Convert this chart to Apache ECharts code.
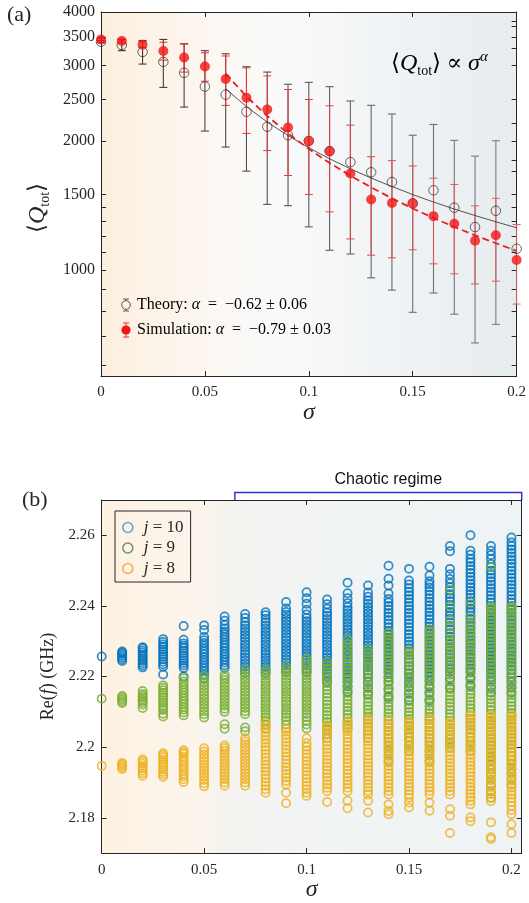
<!DOCTYPE html>
<html>
<head>
<meta charset="utf-8">
<script src="https://cdn.jsdelivr.net/npm/echarts@6/dist/echarts.min.js"></script>
<style>
  html, body { margin: 0; padding: 0; background: #ffffff; }
  #main { width: 529px; height: 903px; }
</style>
</head>
<body>
<div id="main"></div>
<script>
// ---------- Panel (a): mean total quality factor vs. disorder strength ----------
const sigma = [0, 0.01, 0.02, 0.03, 0.04, 0.05, 0.06, 0.07, 0.08, 0.09, 0.10,
               0.11, 0.12, 0.13, 0.14, 0.15, 0.16, 0.17, 0.18, 0.19, 0.20];
// theory: mean and standard deviation
const theoryQ   = [3410, 3350, 3228, 3060, 2886, 2680, 2566, 2341, 2160, 2063, 2001,
                   1895, 1785, 1691, 1605, 1430, 1535, 1398, 1260, 1375, 1121];
const theoryErr = [20, 100, 204, 392, 486, 570, 630, 640, 737, 650, 740,
                   783, 695, 732, 707, 633, 651, 609, 584, 628, null];
// full-wave simulation: mean and standard deviation
const simQ   = [3452, 3423, 3355, 3245, 3132, 2985, 2790, 2524, 2369, 2150, 2000,
                1892, 1680, 1461, 1434, 1432, 1336, 1282, 1170, 1206, 1055];
const simErr = [25, 35, 52, 156, 236, 228, 368, 440, 469, 488, 500,
                525, 498, 378, 366, 317, 302, 302, 242, 264, 222];
// power-law fits over the chaotic range
const fitSigma   = [0.06, 0.07, 0.08, 0.09, 0.10, 0.11, 0.12, 0.13, 0.14, 0.15, 0.16, 0.17, 0.18, 0.19, 0.20];
const theoryFit  = [2648, 2406, 2215, 2059, 1929, 1818, 1723, 1639, 1566, 1500, 1441, 1388, 1340, 1296, 1255];
const simFit     = [2871, 2541, 2287, 2084, 1917, 1778, 1660, 1559, 1470, 1392, 1323, 1261, 1205, 1155, 1109];

const qLabels      = [1000, 1500, 2000, 2500, 3000, 3500, 4000];
const qMinorLeft   = [600, 700, 800, 900, 1100, 1200, 1300, 1400];
const qTicksRight  = [600, 700, 800, 900, 1000, 1100, 1200, 1300, 1400, 1500, 1700, 1800,
                      2000, 2200, 2500, 3000, 3300, 3500, 3700, 3800, 4000];
const sigmaTicks   = [0, 0.05, 0.1, 0.15, 0.2];

// ---------- Panel (b): real part of eigenfrequencies (MHz), one list per sigma ----------
const reJ10 = [
  [2225.7],
  [2224.4, 2224.9, 2225.4, 2225.9, 2226.4, 2226.8, 2227.1],
  [2222.6, 2223.2, 2223.8, 2224.4, 2225, 2225.6, 2226.2, 2226.8, 2227.4, 2228, 2228.3],
  [2220.6, 2222.8, 2223.5, 2224.2, 2224.9, 2225.6, 2226.3, 2227, 2227.7, 2228.4, 2229.1, 2229.8, 2230.6],
  [2220, 2222.4, 2223.1, 2223.8, 2224.5, 2225.2, 2225.9, 2226.6, 2227.3, 2228, 2228.7, 2229.4, 2230.4, 2234.3],
  [2219.6, 2220.6, 2221.5, 2222.3, 2223.1, 2223.9, 2224.7, 2225.5, 2226.3, 2227.1, 2227.9, 2228.7, 2229.5, 2230.3, 2231.2, 2233.2, 2234.5],
  [2222.4, 2223.2, 2224, 2224.8, 2225.6, 2226.4, 2227.2, 2228, 2228.8, 2229.6, 2230.4, 2231.2, 2232, 2232.8, 2233.6, 2234.6, 2235.8, 2237],
  [2221, 2221.9, 2222.8, 2223.7, 2224.6, 2225.5, 2226.4, 2227.3, 2228.2, 2229.1, 2230, 2230.9, 2231.8, 2232.7, 2233.6, 2234.5, 2235.4, 2236.6, 2237.7],
  [2221, 2221.9, 2222.8, 2223.7, 2224.6, 2225.5, 2226.4, 2227.3, 2228.2, 2229.1, 2230, 2230.9, 2231.8, 2232.7, 2233.6, 2234.5, 2235.4, 2236.4, 2237.4, 2238.2],
  [2221.3, 2222.2, 2223.1, 2224, 2224.9, 2225.8, 2226.7, 2227.6, 2228.5, 2229.4, 2230.3, 2231.2, 2232.1, 2233, 2233.9, 2234.8, 2235.7, 2236.6, 2237.5, 2238.3, 2239.3, 2241.1],
  [2221.3, 2222.2, 2223.1, 2224, 2224.9, 2225.8, 2226.7, 2227.6, 2228.5, 2229.4, 2230.3, 2231.2, 2232.1, 2233, 2233.9, 2234.8, 2235.7, 2236.6, 2237.6, 2238.9, 2240.6, 2242.2, 2243.9],
  [2218.5, 2219.8, 2221, 2221.9, 2222.8, 2223.7, 2224.6, 2225.5, 2226.4, 2227.3, 2228.2, 2229.1, 2230, 2230.9, 2231.8, 2232.7, 2233.6, 2234.5, 2235.4, 2236.3, 2237.2, 2238.1, 2239.2, 2240.5, 2241.8],
  [2215.7, 2217.2, 2218.6, 2219.8, 2220.8, 2221.7, 2222.6, 2223.5, 2224.4, 2225.3, 2226.2, 2227.1, 2228, 2228.9, 2229.8, 2230.7, 2231.6, 2232.5, 2233.4, 2234.3, 2235.2, 2236.1, 2237, 2237.9, 2238.8, 2239.7, 2240.8, 2242.2, 2243.6, 2246.6],
  [2215, 2216.8, 2218.4, 2219.7, 2220.8, 2221.7, 2222.6, 2223.5, 2224.4, 2225.3, 2226.2, 2227.1, 2228, 2228.9, 2229.8, 2230.7, 2231.6, 2232.5, 2233.4, 2234.3, 2235.2, 2236.1, 2237, 2237.9, 2238.8, 2239.7, 2240.6, 2241.5, 2242.6, 2243.8, 2245.8],
  [2214.2, 2216.5, 2218.5, 2219.8, 2221, 2222, 2223, 2224, 2225, 2226, 2227, 2228, 2229, 2230, 2231, 2232, 2233, 2234, 2235, 2236, 2237, 2238, 2239, 2240, 2241, 2242, 2243.5, 2245.8, 2247.7, 2251.4],
  [2213.3, 2215.2, 2216.9, 2218.4, 2219.7, 2220.9, 2222, 2223, 2224, 2225, 2226, 2227, 2228, 2229, 2230, 2231, 2232, 2233, 2234, 2235, 2236, 2237, 2238, 2239, 2240, 2241, 2242, 2243, 2244, 2245, 2246.1, 2247.2, 2250.5],
  [2213.3, 2215.4, 2217.2, 2218.8, 2220.1, 2221.2, 2222.2, 2223.2, 2224.2, 2225.2, 2226.2, 2227.2, 2228.2, 2229.2, 2230.2, 2231.2, 2232.2, 2233.2, 2234.2, 2235.2, 2236.2, 2237.2, 2238.2, 2239.2, 2240.2, 2241.2, 2242.2, 2243.2, 2244.2, 2245.2, 2246.1, 2247, 2248.6, 2251.1],
  [2216.8, 2219.5, 2221.3, 2222.3, 2223.3, 2224.3, 2225.3, 2226.3, 2227.3, 2228.3, 2229.3, 2230.3, 2231.3, 2232.3, 2233.3, 2234.3, 2235.3, 2236.3, 2237.3, 2238.3, 2239.3, 2240.3, 2241.3, 2242.3, 2243.3, 2244.3, 2245.3, 2246.4, 2247.6, 2249, 2250.5, 2255.5, 2257],
  [2217.5, 2219.6, 2221.3, 2222.3, 2223.3, 2224.3, 2225.3, 2226.3, 2227.3, 2228.3, 2229.3, 2230.3, 2231.3, 2232.3, 2233.3, 2234.3, 2235.3, 2236.3, 2237.3, 2238.3, 2239.3, 2240.3, 2241.3, 2242.3, 2243.3, 2244.3, 2245.3, 2246.3, 2247.3, 2248.3, 2249.3, 2250.3, 2251.3, 2252.4, 2253.3, 2254.5, 2255.6, 2260],
  [2215.5, 2217, 2218.5, 2219.8, 2221, 2222, 2223, 2224, 2225, 2226, 2227, 2228, 2229, 2230, 2231, 2232, 2233, 2234, 2235, 2236, 2237, 2238, 2239, 2240, 2241, 2242, 2243, 2244, 2245, 2246, 2247, 2248, 2249, 2250, 2251, 2251.9, 2253.3, 2254.4, 2255.6, 2257],
  [2215.5, 2217, 2218.4, 2219.7, 2220.9, 2222, 2223, 2224, 2225, 2226, 2227, 2228, 2229, 2230, 2231, 2232, 2233, 2234, 2235, 2236, 2237, 2238, 2239, 2240, 2241, 2242, 2243, 2244, 2245, 2246, 2247, 2248, 2249, 2250, 2251, 2252, 2253, 2254, 2255, 2256, 2257, 2258, 2259.4]
];
const reJ9 = [
  [2213.7],
  [2212.5, 2213, 2213.5, 2214, 2214.5],
  [2211.1, 2212.1, 2212.7, 2213.3, 2213.9, 2214.5, 2215.1, 2215.9],
  [2208.7, 2209.5, 2210.5, 2211.2, 2211.9, 2212.6, 2213.3, 2214, 2214.7, 2215.4, 2216.1, 2216.8, 2217.5],
  [2209, 2209.8, 2210.6, 2211.4, 2212.2, 2213, 2213.8, 2214.6, 2215.4, 2216.2, 2217, 2217.8, 2218.6, 2219.5],
  [2208.4, 2209.3, 2210.2, 2211.1, 2212, 2212.9, 2213.8, 2214.7, 2215.6, 2216.5, 2217.4, 2218.3, 2219.2, 2220.2],
  [2205.2, 2206.5, 2210, 2210.9, 2211.8, 2212.7, 2213.6, 2214.5, 2215.4, 2216.3, 2217.2, 2218.1, 2219, 2219.8, 2220.5],
  [2204.5, 2205.6, 2209.3, 2210.2, 2211.1, 2212, 2212.9, 2213.8, 2214.7, 2215.6, 2216.5, 2217.4, 2218.3, 2219.2, 2220.1, 2221, 2222],
  [2205.3, 2206.4, 2207.5, 2208.5, 2209.4, 2210.3, 2211.2, 2212.1, 2213, 2213.9, 2214.8, 2215.7, 2216.6, 2217.5, 2218.4, 2219.3, 2220.2, 2221.1, 2222],
  [2205.3, 2206.4, 2207.5, 2208.5, 2209.4, 2210.3, 2211.2, 2212.1, 2213, 2213.9, 2214.8, 2215.7, 2216.6, 2217.5, 2218.4, 2219.3, 2220.2, 2221.1, 2222, 2223],
  [2205.3, 2206.4, 2207.5, 2208.5, 2209.4, 2210.3, 2211.2, 2212.1, 2213, 2213.9, 2214.8, 2215.7, 2216.6, 2217.5, 2218.4, 2219.3, 2220.2, 2221.1, 2222, 2223, 2224, 2225],
  [2202.5, 2203.8, 2205, 2206.1, 2207.1, 2208.1, 2209.1, 2210.1, 2211.1, 2212.1, 2213.1, 2214.1, 2215.1, 2216.1, 2217.1, 2218.1, 2219.1, 2220.1, 2221.1, 2222.2, 2223.2, 2224.2],
  [2205.3, 2206.3, 2207.3, 2208.3, 2209.3, 2210.3, 2211.3, 2212.3, 2213.3, 2214.3, 2215.3, 2216.3, 2217.3, 2218.3, 2219.3, 2220.3, 2221.3, 2222.3, 2223.3, 2224.4, 2225.5, 2226.7, 2228, 2229.3, 2230.6],
  [2202.5, 2203.6, 2204.7, 2205.7, 2206.7, 2207.7, 2208.7, 2209.7, 2210.7, 2211.7, 2212.7, 2213.7, 2214.7, 2215.7, 2216.7, 2217.7, 2218.7, 2219.7, 2220.7, 2221.7, 2222.7, 2223.7, 2224.7, 2225.7, 2226.8, 2227.8],
  [2196, 2197.6, 2199, 2200.3, 2201.5, 2202.6, 2203.6, 2204.6, 2205.6, 2206.6, 2207.6, 2208.6, 2209.6, 2210.6, 2211.6, 2212.6, 2213.6, 2214.6, 2215.6, 2216.6, 2217.6, 2218.6, 2219.6, 2220.6, 2221.6, 2222.6, 2223.6, 2224.6, 2225.6, 2226.6, 2227.6, 2228.6, 2229.6, 2230.6, 2231.6, 2232.5],
  [2199, 2200.4, 2201.7, 2202.9, 2204, 2205, 2206, 2207, 2208, 2209, 2210, 2211, 2212, 2213, 2214, 2215, 2216, 2217, 2218, 2219, 2220, 2221, 2222, 2223, 2224, 2225, 2226, 2226.8, 2227.6],
  [2196, 2197.6, 2199, 2200.3, 2201.5, 2202.6, 2203.6, 2204.6, 2205.6, 2206.6, 2207.6, 2208.6, 2209.6, 2210.6, 2211.6, 2212.6, 2213.6, 2214.6, 2215.6, 2216.6, 2217.6, 2218.6, 2219.6, 2220.6, 2221.6, 2222.6, 2223.6, 2224.6, 2225.6, 2226.6, 2227.6, 2228.6, 2229.6, 2230.6, 2231.6, 2232.6, 2233.4],
  [2199.9, 2201.2, 2202.4, 2203.5, 2204.5, 2205.5, 2206.5, 2207.5, 2208.5, 2209.5, 2210.5, 2211.5, 2212.5, 2213.5, 2214.5, 2215.5, 2216.5, 2217.5, 2218.5, 2219.5, 2220.5, 2221.5, 2222.5, 2223.5, 2224.5, 2225.5, 2226.5, 2227.5, 2228.5, 2229.5, 2230.5, 2232.2, 2234.2, 2236, 2240, 2244.6],
  [2199, 2200.4, 2201.7, 2202.9, 2204, 2205, 2206, 2207, 2208, 2209, 2210, 2211, 2212, 2213, 2214, 2215, 2216, 2217, 2218, 2219, 2220, 2221, 2222, 2223, 2224, 2225, 2226, 2227, 2228, 2229, 2230, 2231, 2232, 2233, 2234, 2235.2, 2237, 2241],
  [2185.7, 2187.5, 2189.2, 2190.8, 2192.3, 2193.7, 2195, 2196.2, 2197.3, 2198.4, 2199.5, 2200.5, 2201.5, 2202.5, 2203.5, 2204.5, 2205.5, 2206.5, 2207.5, 2208.5, 2209.5, 2210.5, 2211.5, 2212.5, 2213.5, 2214.5, 2215.5, 2216.5, 2217.5, 2218.5, 2219.5, 2220.5, 2221.5, 2222.5, 2223.5, 2224.5, 2225.5, 2226.5, 2227.5, 2228.5, 2229.5, 2230.5, 2231.5, 2232.5, 2233.5, 2234.5, 2235.5, 2236.5, 2237.5, 2238.5, 2239.3, 2240, 2251],
  [2189.4, 2191, 2192.5, 2193.9, 2195.2, 2196.4, 2197.5, 2198.6, 2199.7, 2200.7, 2201.7, 2202.7, 2203.7, 2204.7, 2205.7, 2206.7, 2207.7, 2208.7, 2209.7, 2210.7, 2211.7, 2212.7, 2213.7, 2214.7, 2215.7, 2216.7, 2217.7, 2218.7, 2219.7, 2220.7, 2221.7, 2222.7, 2223.7, 2224.7, 2225.7, 2226.7, 2227.7, 2228.7, 2229.7, 2230.7, 2231.7, 2232.7, 2233.7, 2234.7, 2235.7, 2236.7, 2237.7, 2238.7, 2239.4, 2240]
];
const reJ8 = [
  [2194.7],
  [2193.8, 2194.3, 2194.8, 2195.2, 2195.5],
  [2191.9, 2192.6, 2193.3, 2194, 2194.7, 2195.4, 2196, 2196.5],
  [2191.6, 2192.3, 2193, 2193.7, 2194.4, 2195.1, 2195.8, 2196.5, 2197.2, 2197.8, 2198.3],
  [2190.1, 2190.9, 2191.7, 2192.5, 2193.3, 2194.1, 2194.9, 2195.7, 2196.5, 2197.3, 2198.1, 2198.6, 2199.1],
  [2188.9, 2189.8, 2190.7, 2191.6, 2192.5, 2193.4, 2194.3, 2195.2, 2196.1, 2197, 2197.9, 2198.8, 2199.7],
  [2189.1, 2190, 2190.9, 2191.8, 2192.7, 2193.6, 2194.5, 2195.4, 2196.3, 2197.2, 2198.1, 2199, 2199.8, 2200.5],
  [2189.1, 2190, 2190.9, 2191.8, 2192.7, 2193.6, 2194.5, 2195.4, 2196.3, 2197.2, 2198.1, 2199, 2199.9, 2200.8, 2201.7, 2202.5],
  [2187.1, 2188.1, 2189.1, 2190.1, 2191.1, 2192.1, 2193.1, 2194.1, 2195.1, 2196.1, 2197.1, 2198.1, 2199.1, 2200.1, 2201.1, 2202.1, 2203.1, 2204.1, 2205.1, 2206.1, 2207],
  [2184.1, 2187.1, 2189.4, 2190.4, 2191.4, 2192.4, 2193.4, 2194.4, 2195.4, 2196.4, 2197.4, 2198.4, 2199.4, 2200.4, 2201.4, 2202.4, 2203.4, 2204.4, 2205.3],
  [2186.2, 2187.1, 2188.1, 2189.1, 2190.1, 2191.1, 2192.1, 2193.1, 2194.1, 2195.1, 2196.1, 2197.1, 2198.1, 2199.1, 2200.1, 2201.1, 2202.5],
  [2184.5, 2187.5, 2188.5, 2189.5, 2190.5, 2191.5, 2192.5, 2193.5, 2194.5, 2195.5, 2196.5, 2197.5, 2198.5, 2199.5, 2200.5, 2201.5, 2202.5, 2203.5, 2204.5, 2205.5, 2206.2],
  [2182.7, 2184.8, 2187.5, 2188.5, 2189.5, 2190.5, 2191.5, 2192.5, 2193.5, 2194.5, 2195.5, 2196.5, 2197.5, 2198.5, 2199.5, 2200.5, 2201.5, 2202.5, 2203.5, 2204.5, 2205.5, 2206.5, 2207.3],
  [2181.5, 2184.8, 2186.6, 2187.6, 2188.6, 2189.6, 2190.6, 2191.6, 2192.6, 2193.6, 2194.6, 2195.6, 2196.6, 2197.6, 2198.6, 2199.6, 2200.6, 2201.6, 2202.6, 2203.6, 2204.6, 2205.6, 2206.6, 2207.6, 2208.1],
  [2181, 2181.9, 2183.8, 2186.6, 2187.6, 2188.6, 2189.6, 2190.6, 2191.6, 2192.6, 2193.6, 2194.6, 2195.6, 2196.6, 2197.6, 2198.6, 2199.6, 2200.6, 2201.6, 2202.6, 2203.6, 2204.6, 2205.6, 2206.6, 2207.7],
  [2182.9, 2184.3, 2185.7, 2186.7, 2187.7, 2188.7, 2189.7, 2190.7, 2191.7, 2192.7, 2193.7, 2194.7, 2195.7, 2196.7, 2197.7, 2198.7, 2199.7, 2200.7, 2201.7, 2202.7, 2203.7, 2204.7, 2205.7, 2206.7, 2207.3],
  [2182, 2184.3, 2186.6, 2187.6, 2188.6, 2189.6, 2190.6, 2191.6, 2192.6, 2193.6, 2194.6, 2195.6, 2196.6, 2197.6, 2198.6, 2199.6, 2200.6, 2201.6, 2202.6, 2203.6, 2204.6, 2205.6, 2206.6, 2207.6, 2208.1],
  [2175.7, 2180.6, 2182.4, 2186.6, 2187.6, 2188.6, 2189.6, 2190.6, 2191.6, 2192.6, 2193.6, 2194.6, 2195.6, 2196.6, 2197.6, 2198.6, 2199.6, 2200.6, 2201.6, 2202.6, 2203.6, 2204.6, 2205.6, 2206.6, 2207.3],
  [2179, 2180.1, 2183.8, 2184.8, 2185.8, 2186.8, 2187.8, 2188.8, 2189.8, 2190.8, 2191.8, 2192.8, 2193.8, 2194.8, 2195.8, 2196.8, 2197.8, 2198.8, 2199.8, 2200.8, 2201.8, 2202.8, 2203.8, 2204.8, 2205.8, 2206.8, 2207.8, 2208.8, 2209.1],
  [2174, 2174.5, 2178.7, 2184.7, 2185.7, 2186.7, 2187.7, 2188.7, 2189.7, 2190.7, 2191.7, 2192.7, 2193.7, 2194.7, 2195.7, 2196.7, 2197.7, 2198.7, 2199.7, 2200.7, 2201.7, 2202.7, 2203.7, 2204.7, 2205.7, 2206.7, 2207.7, 2208.7, 2209.1],
  [2175.7, 2178.2, 2181, 2182.2, 2183.4, 2184.5, 2185.5, 2186.5, 2187.5, 2188.5, 2189.5, 2190.5, 2191.5, 2192.5, 2193.5, 2194.5, 2195.5, 2196.5, 2197.5, 2198.5, 2199.5, 2200.5, 2201.5, 2202.5, 2203.5, 2204.5, 2205.5, 2206.5, 2207.5, 2208.5, 2209.1]
];
const freqTicks = [2.18, 2.2, 2.22, 2.24, 2.26];
const chaoticStart = 0.065;   // onset of the chaotic regime (sigma)

// ---------- styling ----------
const SERIF = "'Liberation Serif', 'DejaVu Serif', 'Times New Roman', serif";
const SANS = "'Liberation Sans', Arial, sans-serif";
const INK = '#262626';
const COL10 = '#0072BD', COL9 = '#77AC30', COL8 = '#EDB120';

function mix(a, b, t) {
  return 'rgb(' + a.map((v, i) => Math.round(v + (b[i] - v) * t)).join(',') + ')';
}

// MHz lists -> [sigma, GHz] pairs
function columnPoints(cols) {
  const out = [];
  cols.forEach((vals, k) => vals.forEach(v => out.push([sigma[k], v / 1000])));
  return out;
}

function errorBars(mean, err, colorA, colorB, width, z) {
  const data = [];
  sigma.forEach((s, i) => { if (err[i] != null) data.push([s, mean[i] - err[i], mean[i] + err[i], i]); });
  return {
    type: 'custom', xAxisIndex: 0, yAxisIndex: 0, z: z, silent: true,
    encode: { x: 0, y: [1, 2] },
    data: data,
    renderItem: function (params, api) {
      const lo = api.coord([api.value(0), api.value(1)]);
      const hi = api.coord([api.value(0), api.value(2)]);
      const hw = 4;
      const style = { stroke: mix(colorA, colorB, api.value(3) / 20), lineWidth: width };
      return {
        type: 'group', children: [
          { type: 'line', shape: { x1: lo[0], y1: lo[1], x2: hi[0], y2: hi[1] }, style: style },
          { type: 'line', shape: { x1: lo[0] - hw, y1: lo[1], x2: lo[0] + hw, y2: lo[1] }, style: style },
          { type: 'line', shape: { x1: hi[0] - hw, y1: hi[1], x2: hi[0] + hw, y2: hi[1] }, style: style }
        ]
      };
    }
  };
}

const axisLine = { show: true, onZero: false, lineStyle: { color: INK, width: 1 } };
const tickStyle = { color: INK, width: 1 };
const labelStyle = { fontFamily: SERIF, fontSize: 15, color: INK };

const topBg = new echarts.graphic.LinearGradient(0, 0, 1, 0, [
  { offset: 0, color: '#fdefdf' }, { offset: 0.28, color: '#fcf8f3' },
  { offset: 0.42, color: '#f9fafb' }, { offset: 1, color: '#e7ecef' }
]);
const botBg = new echarts.graphic.LinearGradient(0, 0, 1, 0, [
  { offset: 0, color: '#fdf1e2' }, { offset: 0.22, color: '#fcf5ec' },
  { offset: 0.31, color: '#f3f2ef' }, { offset: 0.45, color: '#f2f4f4' }, { offset: 1, color: '#eef3f5' }
]);

const qNameRich = {
  b: { fontFamily: SERIF, fontSize: 23, lineHeight: 28, color: INK },
  q: { fontFamily: SERIF, fontSize: 24, fontStyle: 'italic', lineHeight: 28, color: INK },
  s: { fontFamily: SERIF, fontSize: 14, lineHeight: 14, verticalAlign: 'bottom', color: INK },
  g: { fontFamily: SERIF, fontSize: 24, fontStyle: 'italic', lineHeight: 28, color: INK },
  p: { fontFamily: SERIF, fontSize: 15, fontStyle: 'italic', lineHeight: 15, verticalAlign: 'top', color: INK }
};

const chart = echarts.init(document.getElementById('main'));

const option = {
  animation: false,
  grid: [
    { left: 101, top: 12, width: 419.5, height: 364, show: true, borderWidth: 0, backgroundColor: topBg },
    { left: 101.7, top: 500, width: 420, height: 356, show: true, borderWidth: 0, backgroundColor: botBg }
  ],
  xAxis: [
    { gridIndex: 0, type: 'value', min: 0, max: 0.2, position: 'bottom', axisLine: axisLine,
      axisTick: { inside: true, length: 5, customValues: sigmaTicks, lineStyle: tickStyle },
      axisLabel: Object.assign({ customValues: sigmaTicks, margin: 9 }, labelStyle),
      splitLine: { show: false },
      name: 'σ', nameLocation: 'middle', nameGap: 21,
      nameTextStyle: { fontFamily: SERIF, fontStyle: 'italic', fontSize: 24, color: INK } },
    { gridIndex: 0, type: 'value', min: 0, max: 0.2, position: 'top', axisLine: axisLine,
      axisTick: { inside: true, length: 5, customValues: sigmaTicks, lineStyle: tickStyle },
      axisLabel: { show: false }, splitLine: { show: false } },
    { gridIndex: 1, type: 'value', min: 0, max: 0.205, position: 'bottom', axisLine: axisLine,
      axisTick: { inside: true, length: 5, customValues: sigmaTicks, lineStyle: tickStyle },
      axisLabel: Object.assign({ customValues: sigmaTicks, margin: 9 }, labelStyle),
      splitLine: { show: false },
      name: 'σ', nameLocation: 'middle', nameGap: 22,
      nameTextStyle: { fontFamily: SERIF, fontStyle: 'italic', fontSize: 24, color: INK } },
    { gridIndex: 1, type: 'value', min: 0, max: 0.205, position: 'top', axisLine: axisLine,
      axisTick: { inside: true, length: 5, customValues: sigmaTicks, lineStyle: tickStyle },
      axisLabel: { show: false }, splitLine: { show: false } }
  ],
  yAxis: [
    { gridIndex: 0, type: 'log', logBase: 10, min: 566, max: 4000, position: 'left', axisLine: axisLine,
      axisTick: { inside: true, length: 5, customValues: qLabels.concat(qMinorLeft), lineStyle: tickStyle },
      axisLabel: Object.assign({ customValues: qLabels, margin: 6, fontSize: 16,
        formatter: v => String(Math.round(v)) }, { fontFamily: SERIF, color: INK }),
      splitLine: { show: false }, minorTick: { show: false },
      name: '{b|⟨}{q|Q}{s|tot}{b|⟩}', nameLocation: 'middle', nameGap: 40, nameRotate: 90,
      nameTextStyle: { rich: qNameRich, padding: [0, 28, 0, 0] } },
    { gridIndex: 0, type: 'log', logBase: 10, min: 566, max: 4000, position: 'right', axisLine: axisLine,
      axisTick: { inside: true, length: 5, customValues: qTicksRight, lineStyle: tickStyle },
      axisLabel: { show: false }, splitLine: { show: false } },
    { gridIndex: 1, type: 'value', min: 2.17, max: 2.27, position: 'left', axisLine: axisLine,
      axisTick: { inside: true, length: 5, customValues: freqTicks, lineStyle: tickStyle },
      axisLabel: Object.assign({ customValues: freqTicks, margin: 7 }, labelStyle),
      splitLine: { show: false },
      name: '{r|Re(}{f|f}{r|) (GHz)}', nameLocation: 'middle', nameGap: 42, nameRotate: 90,
      nameTextStyle: { rich: {
        r: { fontFamily: SERIF, fontSize: 18, color: INK },
        f: { fontFamily: SERIF, fontSize: 18, fontStyle: 'italic', color: INK }
      } } },
    { gridIndex: 1, type: 'value', min: 2.17, max: 2.27, position: 'right', axisLine: axisLine,
      axisTick: { inside: true, length: 5, customValues: freqTicks, lineStyle: tickStyle },
      axisLabel: { show: false }, splitLine: { show: false } }
  ],
  legend: {
    data: [
      { name: 'j=10', icon: 'circle', itemStyle: { color: 'rgba(0,0,0,0)', borderColor: '#3a8fd2', borderWidth: 1.6 } },
      { name: 'j=9', icon: 'circle', itemStyle: { color: 'rgba(0,0,0,0)', borderColor: '#4b7f45', borderWidth: 1.6 } },
      { name: 'j=8', icon: 'circle', itemStyle: { color: 'rgba(0,0,0,0)', borderColor: '#f59a26', borderWidth: 1.6 } }
    ],
    orient: 'vertical', left: 115, top: 511,
    padding: [8, 7, 5, 7], itemGap: 3.5, itemWidth: 14, itemHeight: 10,
    borderColor: INK, borderWidth: 1, backgroundColor: 'rgba(0,0,0,0)',
    formatter: name => '{i|j}{n| = ' + name.split('=')[1] + '}',
    textStyle: { rich: {
      i: { fontFamily: SERIF, fontSize: 17, fontStyle: 'italic', lineHeight: 16, color: INK, padding: [0, 0, 0, 4] },
      n: { fontFamily: SERIF, fontSize: 17, lineHeight: 16, color: INK }
    } }
  },
  series: [
    errorBars(theoryQ, theoryErr, [60, 50, 40], [125, 130, 136], 1.1, 2),
    errorBars(simQ, simErr, [232, 30, 30], [226, 95, 95], 1.0, 3),
    { type: 'line', xAxisIndex: 0, yAxisIndex: 0, z: 4, symbol: 'none', silent: true,
      data: fitSigma.map((s, i) => [s, theoryFit[i]]),
      lineStyle: { color: '#2a2a2a', width: 0.8 } },
    { type: 'scatter', xAxisIndex: 0, yAxisIndex: 0, z: 5, symbol: 'circle', symbolSize: 9.5,
      data: sigma.map((s, i) => [s, theoryQ[i]]),
      itemStyle: { color: 'rgba(0,0,0,0)', borderColor: '#2b2b2b', borderWidth: 0.9 } },
    { type: 'line', xAxisIndex: 0, yAxisIndex: 0, z: 6, symbol: 'none', silent: true,
      data: fitSigma.map((s, i) => [s, simFit[i]]),
      lineStyle: { color: '#e52222', width: 1.8, type: [7, 4] } },
    { type: 'scatter', xAxisIndex: 0, yAxisIndex: 0, z: 7, symbol: 'circle', symbolSize: 10,
      data: sigma.map((s, i) => [s, simQ[i]]),
      itemStyle: { color: '#f21515' } },
    { name: 'j=10', type: 'scatter', xAxisIndex: 2, yAxisIndex: 2, symbol: 'circle', symbolSize: 8.2,
      data: columnPoints(reJ10), large: false, progressive: 0,
      itemStyle: { color: 'rgba(0,0,0,0)', borderColor: COL10, borderWidth: 1.75 } },
    { name: 'j=9', type: 'scatter', xAxisIndex: 2, yAxisIndex: 2, symbol: 'circle', symbolSize: 8.2,
      data: columnPoints(reJ9), large: false, progressive: 0,
      itemStyle: { color: 'rgba(0,0,0,0)', borderColor: COL9, borderWidth: 1.75 } },
    { name: 'j=8', type: 'scatter', xAxisIndex: 2, yAxisIndex: 2, symbol: 'circle', symbolSize: 8.2,
      data: columnPoints(reJ8), large: false, progressive: 0,
      itemStyle: { color: 'rgba(0,0,0,0)', borderColor: COL8, borderWidth: 1.75 } }
  ]
};
chart.setOption(option);

// annotations positioned from the axes
const xChaos = chart.convertToPixel({ xAxisIndex: 2 }, chaoticStart);
const xEnd = chart.convertToPixel({ xAxisIndex: 2 }, 0.205);
const yTopB = chart.convertToPixel({ yAxisIndex: 2 }, 2.27);

const legendRich = {
  t: { fontFamily: SERIF, fontSize: 16, color: INK },
  m: { fontFamily: SERIF, fontSize: 16, fontStyle: 'italic', color: INK }
};

chart.setOption({
  graphic: [
    { type: 'text', left: 7, top: 4, style: { text: '(a)', font: '22px ' + SERIF, fill: INK } },
    { type: 'text', left: 22, top: 489, style: { text: '(b)', font: '22px ' + SERIF, fill: INK } },
    { type: 'text', x: 391, y: 50, style: { text: '{b|⟨}{q|Q}{s|tot}{b|⟩ ∝ }{g|σ}{p|α}', rich: qNameRich } },
    // legend of panel (a)
    { type: 'line', shape: { x1: 126, y1: 299, x2: 126, y2: 311 }, style: { stroke: '#6b5a4a', lineWidth: 1 } },
    { type: 'line', shape: { x1: 123, y1: 299, x2: 129, y2: 299 }, style: { stroke: '#6b5a4a', lineWidth: 1 } },
    { type: 'line', shape: { x1: 123, y1: 311, x2: 129, y2: 311 }, style: { stroke: '#6b5a4a', lineWidth: 1 } },
    { type: 'circle', shape: { cx: 126, cy: 305, r: 4.3 }, style: { fill: '#fcf3e8', stroke: '#4a3f35', lineWidth: 0.9 } },
    { type: 'line', shape: { x1: 126, y1: 323, x2: 126, y2: 337 }, style: { stroke: '#ee3030', lineWidth: 1 } },
    { type: 'line', shape: { x1: 123, y1: 323, x2: 129, y2: 323 }, style: { stroke: '#ee3030', lineWidth: 1 } },
    { type: 'line', shape: { x1: 123, y1: 337, x2: 129, y2: 337 }, style: { stroke: '#ee3030', lineWidth: 1 } },
    { type: 'circle', shape: { cx: 126, cy: 330, r: 4.6 }, style: { fill: '#f21515' } },
    { type: 'text', x: 137, y: 305, style: { text: '{t|Theory: }{m|α}{t|  =  −0.62 ± 0.06}', rich: legendRich, verticalAlign: 'middle' } },
    { type: 'text', x: 137, y: 330, style: { text: '{t|Simulation: }{m|α}{t|  =  −0.79 ± 0.03}', rich: legendRich, verticalAlign: 'middle' } },
    // chaotic-regime bracket
    { type: 'polyline', shape: { points: [[xChaos, yTopB], [xChaos, yTopB - 7.5], [xEnd, yTopB - 7.5], [xEnd, yTopB]] },
      style: { stroke: '#3434d0', lineWidth: 1.5, fill: null } },
    { type: 'text', x: (xChaos + xEnd) / 2 + 10, y: 480,
      style: { text: 'Chaotic regime', font: '16px ' + SANS, fill: '#111', align: 'center', verticalAlign: 'middle' } }
  ]
});
</script>
</body>
</html>
